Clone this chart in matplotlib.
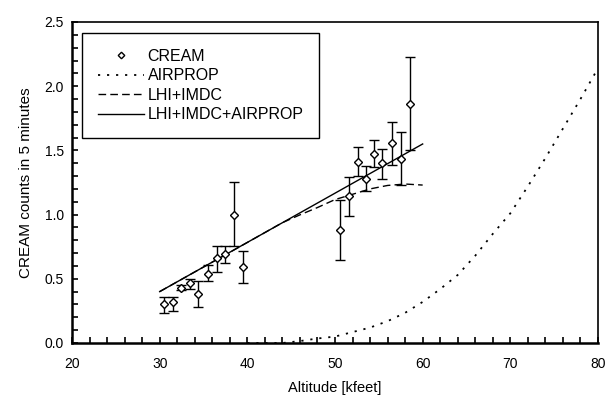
import matplotlib
matplotlib.use("Agg")
import matplotlib.pyplot as plt
from matplotlib.ticker import MultipleLocator

plt.rcParams['font.family'] = ['Liberation Sans', 'DejaVu Sans']

# ==============================
# Data
# ==============================
alt = [30.5, 31.5, 32.4, 33.5, 34.4, 35.5, 36.5, 37.5, 38.5, 39.5,
       50.6, 51.6, 52.6, 53.5, 54.5, 55.4, 56.5, 57.5, 58.5]
counts = [0.30, 0.32, 0.43, 0.465, 0.38, 0.54, 0.66, 0.69, 1.00, 0.595,
          0.88, 1.145, 1.41, 1.28, 1.47, 1.40, 1.56, 1.43, 1.86]
err_low = [0.23, 0.25, 0.41, 0.42, 0.28, 0.48, 0.555, 0.62, 0.755, 0.47,
           0.65, 0.99, 1.30, 1.18, 1.37, 1.28, 1.39, 1.23, 1.50]
err_high = [0.36, 0.36, 0.45, 0.50, 0.48, 0.61, 0.755, 0.755, 1.25, 0.72,
            1.11, 1.29, 1.53, 1.38, 1.58, 1.51, 1.72, 1.64, 2.23]

# AIRPROP model
air_x = [40, 44, 46, 48, 50, 52, 54, 56, 58, 60, 62, 64, 66, 68, 70, 72, 74, 76, 78, 80]
air_y = [0.0, 0.0, 0.015, 0.035, 0.05, 0.085, 0.12, 0.17, 0.235, 0.32,
         0.42, 0.53, 0.68, 0.85, 1.01, 1.22, 1.44, 1.67, 1.90, 2.14]

# LHI+IMDC model
lhi_x = [30, 40, 44, 46, 48, 50, 52, 54, 56, 58, 60]
lhi_y = [0.40, 0.783, 0.937, 0.998, 1.055, 1.117, 1.158, 1.20, 1.227, 1.238, 1.23]

# LHI+IMDC+AIRPROP model
tot_x = [30, 60]
tot_y = [0.40, 1.55]

# ==============================
# Plot
# ==============================
fig = plt.figure(figsize=(6.06, 4.05), dpi=100)
ax = fig.add_axes([0.1188, 0.1531, 0.868, 0.7926])

ax.errorbar(alt, counts, yerr=[[c - l for c, l in zip(counts, err_low)],
                               [h - c for c, h in zip(counts, err_high)]],
            fmt='none', ecolor='black', elinewidth=1.0, capsize=3.3, capthick=1.0, zorder=3)
ax.plot(air_x, air_y, color='black', linestyle=(0, (1.2, 3.8)), linewidth=1.3, label='AIRPROP')
ax.plot(lhi_x, lhi_y, color='black', linestyle=(0, (5.5, 3)), linewidth=1.0, label='LHI+IMDC')
ax.plot(tot_x, tot_y, color='black', linestyle='-', linewidth=1.0, label='LHI+IMDC+AIRPROP')
ax.plot(alt, counts, linestyle='none', marker='D', markersize=3.9, markerfacecolor='white',
        markeredgecolor='black', markeredgewidth=1.0, label='CREAM', zorder=4)

ax.set_xlim(20, 80)
ax.set_ylim(0, 2.5)
ax.xaxis.set_major_locator(MultipleLocator(10))
ax.xaxis.set_minor_locator(MultipleLocator(2))
ax.yaxis.set_major_locator(MultipleLocator(0.5))
ax.yaxis.set_minor_locator(MultipleLocator(0.1))
ax.yaxis.set_major_formatter(plt.FormatStrFormatter('%.1f'))

ax.tick_params(axis='both', which='both', direction='in', top=False, right=False,
               labelsize=10, width=1.2)
ax.tick_params(axis='x', which='both', length=4, pad=10)
ax.tick_params(axis='y', which='both', length=4, pad=6)
for side in ['left', 'bottom']:
    ax.spines[side].set_linewidth(1.8)
for side in ['top', 'right']:
    ax.spines[side].set_linewidth(1.2)

ax.set_xlabel("Altitude [kfeet]", fontsize=10.5, labelpad=7)
ax.set_ylabel("CREAM counts in 5 minutes", fontsize=11, labelpad=8)

handles, labels = ax.get_legend_handles_labels()
order = [3, 0, 1, 2]
leg = ax.legend([handles[i] for i in order], [labels[i] for i in order],
                loc='upper left', bbox_to_anchor=(0.019, 0.966, 0.45, 0.0), mode='expand',
                borderaxespad=0, fancybox=False, edgecolor='black', framealpha=1,
                fontsize=11.5, handlelength=2.9, handletextpad=0.2, labelspacing=0.28,
                borderpad=1.0, markerscale=0.85)
leg.get_frame().set_linewidth(1.0)

plt.savefig("out.png", dpi=100)
plt.close()
